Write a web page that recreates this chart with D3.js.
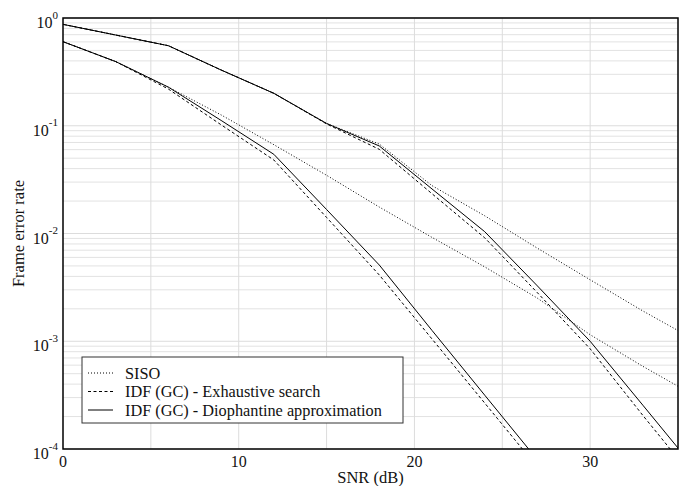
<!DOCTYPE html>
<html>
<head>
<meta charset="utf-8">
<script src="https://cdn.jsdelivr.net/npm/d3@7"></script>
<style>
  body { margin: 0; background: #fff; }
  text { font-family: "Liberation Serif", "DejaVu Serif", serif; fill: #111; }
</style>
</head>
<body>
<svg id="chart" width="690" height="486"></svg>
<script>
// SNR points (dB)
const snr = [0, 3, 6, 9, 12, 15, 18, 21, 24, 27, 30, 33, 36]

// low-SNR group
const sisoLow   = [0.603, 0.394, 0.228, 0.126, 0.0667, 0.0347, 0.0176, 0.0092, 0.0049, 0.00251, 0.00115, 0.000585, 0.000309]
const exhLow    = [0.603, 0.394, 0.219, 0.102, 0.0481, 0.0141, 0.00412, 0.00105, 0.000267, 0.0000676]
const dioLow    = [0.603, 0.394, 0.228, 0.112, 0.0543, 0.0167, 0.0051, 0.00126, 0.000316, 0.0000794]

// high-SNR group
const sisoHigh  = [0.873, 0.695, 0.553, 0.329, 0.2, 0.105, 0.0676, 0.0278, 0.0146, 0.0073, 0.00372, 0.00191, 0.00102]
const exhHigh   = [0.873, 0.695, 0.553, 0.329, 0.2, 0.104, 0.0604, 0.0234, 0.00912, 0.00282, 0.000851, 0.000205, 0.0000513]
const dioHigh   = [0.873, 0.695, 0.553, 0.329, 0.2, 0.105, 0.0649, 0.0259, 0.0104, 0.00326, 0.001, 0.000255, 0.0000646]

const xTicks = [0, 10, 20, 30]
const yExps  = [0, -1, -2, -3, -4]
const legendNames = ['SISO', 'IDF (GC) - Exhaustive search', 'IDF (GC) - Diophantine approximation']

let margin = {left: 63, top: 18, right: 12, bottom: 37}
let width  = 690
let height = 486

let svg = d3.select('#chart')

let x = d3.scaleLinear().domain([0, 35]).range([margin.left, width - margin.right])
let y = d3.scaleLog().domain([1e-4, 1]).range([height - margin.bottom, margin.top])

let [x0, x1] = x.range()
let [y0, y1] = y.range()

// grid
let grid = svg.append('g')
let minor = []
for (let e = -4; e < 0; e++) {
  for (let m = 2; m <= 9; m++) minor.push(m * Math.pow(10, e))
}
grid.selectAll('.hmin').data(minor).enter().append('line')
  .attr('x1', x0).attr('x2', x1)
  .attr('y1', d => y(d)).attr('y2', d => y(d))
  .attr('stroke', '#e2e2e2').attr('stroke-width', 1)
grid.selectAll('.hmaj').data(yExps).enter().append('line')
  .attr('x1', x0).attr('x2', x1)
  .attr('y1', d => y(Math.pow(10, d))).attr('y2', d => y(Math.pow(10, d)))
  .attr('stroke', '#dcdcdc').attr('stroke-width', 1)
grid.selectAll('.v').data(d3.range(5, 35, 5)).enter().append('line')
  .attr('x1', d => x(d)).attr('x2', d => x(d))
  .attr('y1', y1).attr('y2', y0)
  .attr('stroke', '#dcdcdc').attr('stroke-width', 1)

// curves
svg.append('clipPath').attr('id', 'clip')
  .append('rect').attr('x', x0).attr('y', y1).attr('width', x1 - x0).attr('height', y0 - y1)

let line = d3.line().x((d, i) => x(snr[i])).y(d => y(d))

let series = [
  {v: sisoLow,  dash: '1,2'},
  {v: sisoHigh, dash: '1,2'},
  {v: exhLow,   dash: '3,2.5'},
  {v: exhHigh,  dash: '3,2.5'},
  {v: dioLow,   dash: null},
  {v: dioHigh,  dash: null}
]

let curves = svg.append('g').attr('clip-path', 'url(#clip)')
series.forEach(s => {
  curves.append('path')
    .attr('d', line(s.v))
    .attr('fill', 'none')
    .attr('stroke', '#000')
    .attr('stroke-width', 1)
    .attr('stroke-dasharray', s.dash)
})

// frame
svg.append('rect')
  .attr('x', x0).attr('y', y1).attr('width', x1 - x0).attr('height', y0 - y1)
  .attr('fill', 'none').attr('stroke', '#000').attr('stroke-width', 1.5)

// x tick labels
svg.selectAll('.xt').data(xTicks).enter().append('text')
  .attr('x', d => x(d)).attr('y', 467)
  .attr('text-anchor', 'middle').attr('font-size', 16)
  .text(d => d)

// y tick labels 10^n
let yt = svg.selectAll('.yt').data(yExps).enter().append('text')
  .attr('x', 58).attr('y', d => y(Math.pow(10, d)) + 10)
  .attr('text-anchor', 'end').attr('font-size', 16)
yt.append('tspan').text('10')
yt.append('tspan').attr('dy', -9.5).attr('font-size', 11).text(d => d)

// axis titles
svg.append('text')
  .attr('x', (x0 + x1) / 2).attr('y', 483)
  .attr('text-anchor', 'middle').attr('font-size', 16.5)
  .text('SNR (dB)')
svg.append('text')
  .attr('transform', `translate(24,${(y0 + y1) / 2}) rotate(-90)`)
  .attr('text-anchor', 'middle').attr('font-size', 16.5)
  .text('Frame error rate')

// legend
let lg = svg.append('g')
lg.append('rect')
  .attr('x', 82).attr('y', 357).attr('width', 321).attr('height', 66)
  .attr('fill', '#fff').attr('stroke', '#333').attr('stroke-width', 1)
let dashes = ['1,2', '3,2.5', null]
legendNames.forEach((name, i) => {
  let ly = 373 + i * 18.5
  lg.append('line')
    .attr('x1', 88).attr('x2', 113).attr('y1', ly).attr('y2', ly)
    .attr('stroke', '#000').attr('stroke-width', 1)
    .attr('stroke-dasharray', dashes[i])
  lg.append('text')
    .attr('x', 125).attr('y', ly + 5.5)
    .attr('font-size', 16.3)
    .text(name)
})
</script>
</body>
</html>
